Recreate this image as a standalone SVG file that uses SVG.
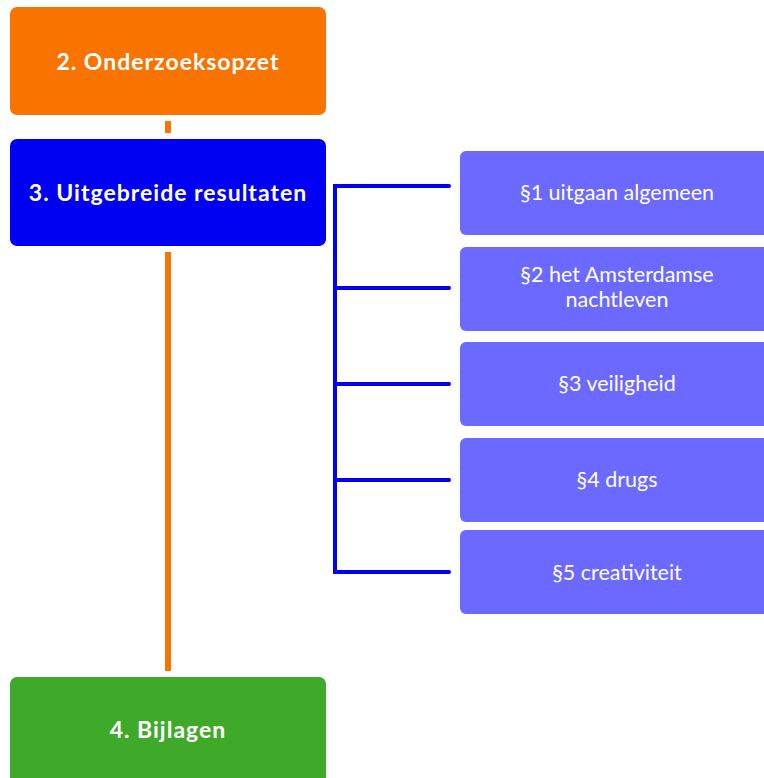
<svg xmlns="http://www.w3.org/2000/svg" width="764" height="778" viewBox="0 0 764 778">
<style>
.main{font-family:Lato,"Open Sans","DejaVu Sans",sans-serif;font-weight:bold;font-size:23px;letter-spacing:1px;fill:#fff;text-anchor:middle}
.sub{font-family:Lato,"Open Sans","DejaVu Sans",sans-serif;font-size:21.5px;fill:#fff;text-anchor:middle}
.br{stroke:#0000F2;stroke-width:4;fill:none;stroke-linecap:round}
.sec{fill:#6B69FF}
</style>
<rect width="764" height="778" fill="#fff"/>
<g id="connectors">
<rect x="165" y="121" width="6" height="12" fill="#F97300"/>
<rect x="165" y="252" width="6" height="419" fill="#F97300"/>
<path class="br" d="M449 186 H335 V572 H449 M335 288 H449 M335 384 H449 M335 480 H449"/>
</g>
<g id="n2"><rect x="10" y="7" width="316" height="108" rx="7" fill="#F97300"/><text class="main" x="168" y="70">2. Onderzoeksopzet</text></g>
<g id="n3"><rect x="10" y="139" width="316" height="107" rx="7" fill="#0000F2"/><text class="main" x="168" y="201">3. Uitgebreide resultaten</text></g>
<g id="n4"><rect x="10" y="677" width="316" height="120" rx="7" fill="#3FA92A"/><text class="main" x="168" y="738">4. Bijlagen</text></g>
<g id="s1"><rect class="sec" x="460" y="151" width="320" height="84" rx="6"/><text class="sub" x="617" y="200">§1 uitgaan algemeen</text></g>
<g id="s2"><rect class="sec" x="460" y="247" width="320" height="84" rx="6"/><text class="sub" x="617" y="282">§2 het Amsterdamse</text><text class="sub" x="617" y="307">nachtleven</text></g>
<g id="s3"><rect class="sec" x="460" y="342" width="320" height="84" rx="6"/><text class="sub" x="617" y="391">§3 veiligheid</text></g>
<g id="s4"><rect class="sec" x="460" y="438" width="320" height="84" rx="6"/><text class="sub" x="617" y="487">§4 drugs</text></g>
<g id="s5"><rect class="sec" x="460" y="530" width="320" height="84" rx="6"/><text class="sub" x="617" y="580">§5 creativiteit</text></g>
</svg>
